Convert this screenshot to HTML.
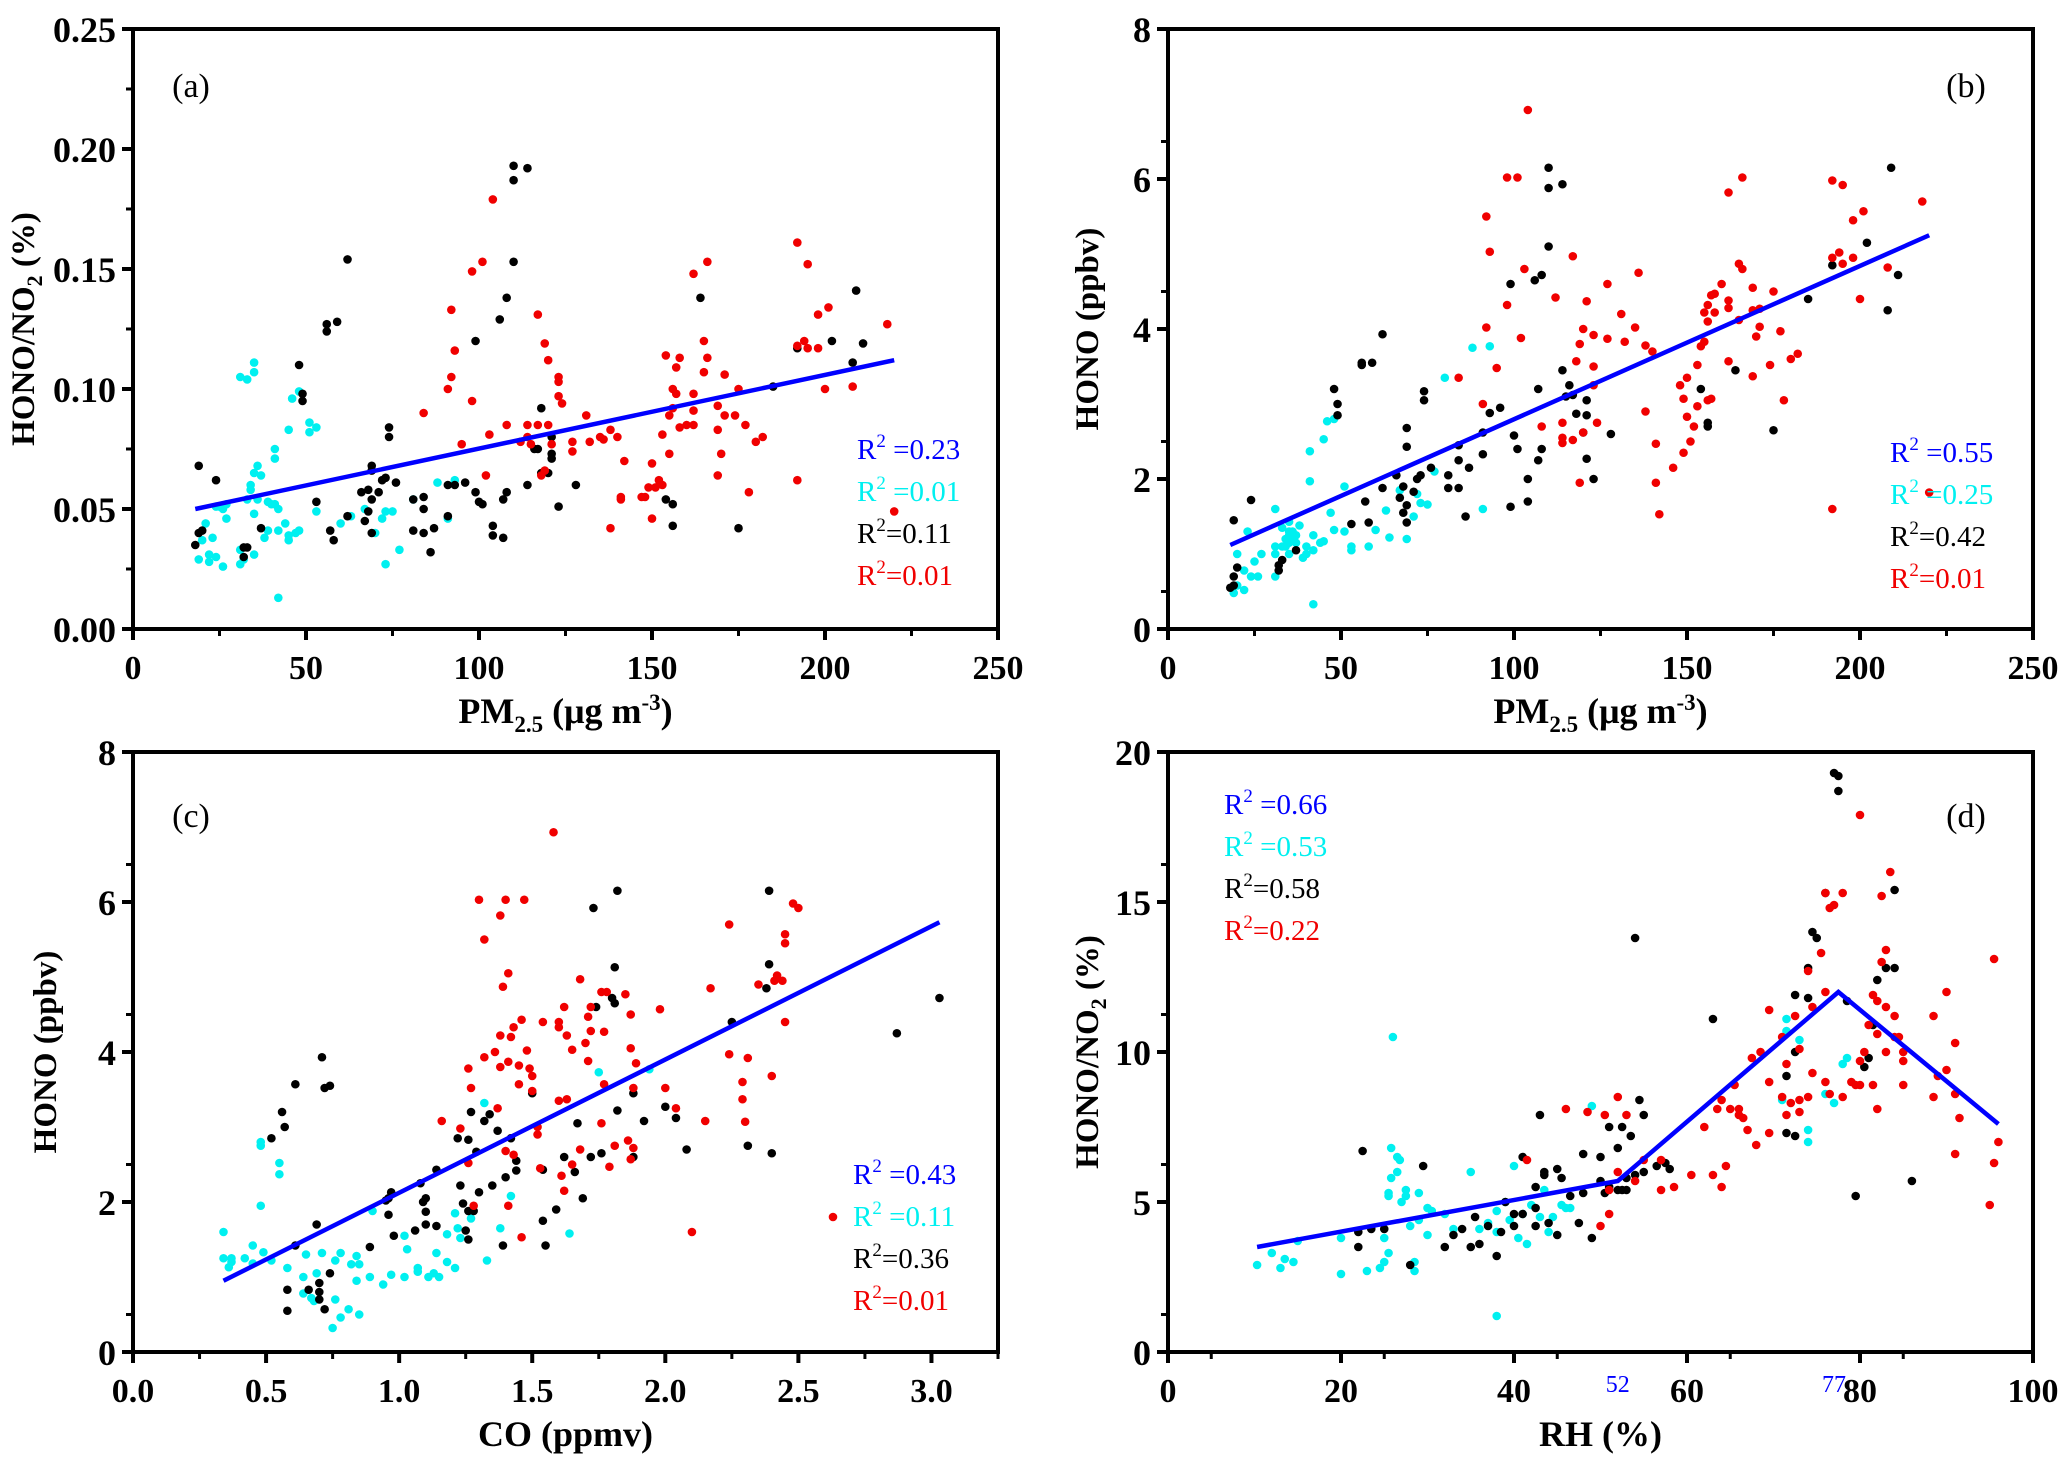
<!DOCTYPE html>
<html><head><meta charset="utf-8"><style>
html,body{margin:0;padding:0;background:#fff;}
svg{display:block;}
svg, svg text{font-family:"Liberation Serif","DejaVu Serif",serif;}
</style></head><body>
<svg id="fig" width="2067" height="1463" viewBox="0 0 2067 1463" xmlns="http://www.w3.org/2000/svg" font-family="Liberation Serif, serif"></svg>
<script>
// ---------- DATA ----------
const aCyan=[[19,.029],[20,.037],[21,.044],[22,.031],[22,.028],[23,.038],[24,.051],[24,.030],[25,.051],[26,.050],[26,.026],[27,.052],[27,.046],[31,.033],[31,.027],[31,.105],[32,.029],[33,.104],[33,.054],[34,.060],[34,.058],[35,.111],[35,.107],[35,.065],[35,.048],[35,.031],[36,.068],[36,.054],[37,.064],[38,.038],[39,.041],[39,.053],[40,.052],[41,.075],[41,.071],[41,.052],[42,.050],[42,.041],[42,.013],[44,.044],[45,.083],[45,.037],[45,.039],[46,.096],[47,.040],[48,.041],[48,.099],[51,.086],[51,.082],[53,.084],[53,.049],[60,.044],[63,.047],[67,.050],[70,.040],[72,.046],[73,.049],[73,.027],[75,.049],[77,.033],[81,.054],[88,.061],[91,.046],[93,.062]];
const aBlack=[[18,.035],[19,.068],[19,.040],[20,.041],[24,.062],[32,.034],[32,.030],[33,.034],[37,.042],[48,.110],[49,.098],[49,.095],[53,.053],[56,.127],[56,.124],[57,.041],[58,.037],[59,.128],[62,.047],[62,.154],[66,.057],[67,.045],[68,.058],[68,.049],[69,.068],[69,.066],[69,.054],[69,.040],[71,.057],[72,.062],[73,.063],[74,.084],[74,.080],[76,.061],[81,.054],[81,.041],[84,.055],[84,.050],[84,.040],[86,.032],[87,.042],[91,.060],[91,.047],[93,.060],[96,.061],[99,.120],[99,.057],[100,.053],[101,.052],[104,.043],[104,.039],[106,.129],[107,.054],[107,.038],[108,.138],[108,.057],[110,.193],[110,.187],[110,.153],[114,.192],[114,.060],[116,.075],[117,.075],[118,.092],[118,.065],[120,.065],[121,.080],[121,.073],[121,.071],[123,.051],[128,.060],[154,.054],[156,.052],[156,.043],[164,.138],[175,.042],[185,.101],[192,.117],[202,.120],[208,.111],[209,.141],[211,.119]];
const aRed=[[84,.090],[91,.100],[92,.133],[92,.105],[93,.116],[95,.077],[98,.149],[98,.095],[101,.153],[102,.064],[103,.081],[104,.179],[108,.085],[112,.078],[114,.085],[114,.080],[115,.077],[117,.131],[117,.085],[118,.064],[119,.119],[119,.066],[120,.112],[120,.085],[121,.077],[123,.105],[123,.103],[123,.097],[124,.094],[127,.078],[127,.074],[131,.089],[132,.078],[135,.080],[136,.079],[138,.083],[138,.042],[140,.080],[141,.055],[141,.054],[142,.070],[147,.055],[148,.055],[149,.059],[150,.069],[150,.046],[151,.059],[152,.062],[153,.060],[153,.081],[154,.114],[155,.073],[155,.089],[156,.100],[156,.092],[157,.109],[157,.098],[158,.113],[158,.084],[160,.085],[162,.148],[162,.098],[162,.091],[162,.085],[165,.120],[165,.107],[166,.153],[166,.113],[169,.093],[169,.083],[169,.064],[170,.073],[171,.106],[171,.089],[174,.089],[175,.100],[177,.085],[178,.057],[180,.078],[182,.080],[192,.161],[192,.118],[192,.062],[194,.120],[195,.152],[195,.117],[198,.131],[198,.117],[200,.100],[201,.134],[208,.101],[218,.127],[220,.049]];
const aFit=[[18,.050],[220,.112]];

const bCyan=[[19,.48],[20,.58],[20,1.0],[22,.78],[22,.52],[23,1.3],[24,.70],[25,.90],[26,.70],[27,1.0],[31,.70],[31,1.1],[31,1.0],[31,1.6],[33,1.35],[33,1.1],[34,1.2],[34,1.1],[35,1.43],[35,1.3],[35,1.25],[35,1.15],[35,1.0],[36,1.3],[36,1.2],[37,1.25],[37,1.15],[38,1.38],[39,.95],[40,1.1],[40,1.0],[41,2.37],[41,1.97],[42,1.25],[42,1.05],[42,.33],[44,1.15],[45,1.17],[45,2.53],[46,2.77],[47,1.55],[48,1.32],[48,2.80],[51,1.9],[51,1.3],[53,1.1],[53,1.05],[58,1.1],[60,1.32],[63,1.58],[64,1.22],[67,1.85],[69,1.2],[71,1.5],[72,1.8],[73,1.68],[75,1.66],[77,2.1],[80,3.35],[88,3.75],[91,1.6],[93,3.77]];
const bBlack=[[18,.55],[19,.58],[19,.70],[19,1.45],[20,.82],[24,1.72],[32,.78],[32,.85],[33,.92],[37,1.05],[48,3.2],[49,3.0],[49,2.85],[53,1.4],[56,3.55],[56,3.52],[57,1.7],[58,1.42],[59,3.55],[62,1.88],[62,3.93],[66,2.05],[67,1.75],[68,1.9],[68,1.55],[69,2.68],[69,2.43],[69,1.65],[69,1.42],[71,1.83],[72,2.0],[73,2.05],[74,3.17],[74,3.05],[76,2.15],[81,2.05],[81,1.88],[84,2.45],[84,2.25],[84,1.88],[86,1.5],[87,2.15],[91,2.62],[91,2.33],[93,2.88],[96,2.95],[99,4.6],[99,1.63],[100,2.58],[101,2.4],[104,2.0],[104,1.7],[106,4.65],[107,3.2],[107,2.25],[108,4.72],[108,2.4],[110,6.15],[110,5.88],[110,5.1],[114,5.93],[114,3.45],[115,3.1],[116,3.25],[117,3.12],[118,2.87],[120,2.62],[121,3.05],[121,2.85],[121,2.27],[123,2.0],[128,2.6],[154,3.2],[156,2.75],[156,2.7],[164,3.45],[175,2.65],[185,4.4],[192,4.85],[202,5.15],[208,4.25],[209,6.15],[211,4.72]];
const bRed=[[84,3.35],[91,3.0],[92,5.5],[92,4.02],[93,5.03],[95,3.48],[98,6.02],[98,4.32],[101,6.02],[102,3.88],[103,4.8],[104,6.92],[108,2.7],[112,4.42],[114,2.75],[114,2.55],[114,2.48],[117,4.97],[117,2.52],[118,3.57],[119,3.8],[119,1.95],[120,4.0],[120,2.62],[121,4.37],[123,3.92],[123,3.5],[123,3.25],[124,2.75],[127,4.6],[127,3.87],[131,4.2],[132,3.83],[135,4.02],[136,4.75],[138,3.78],[138,2.9],[140,3.7],[141,2.47],[141,1.95],[142,1.53],[146,2.15],[148,3.25],[149,3.07],[149,2.35],[150,3.35],[150,2.83],[151,2.5],[152,2.7],[153,3.52],[153,2.97],[154,3.77],[155,4.22],[155,3.83],[156,4.32],[156,4.1],[156,3.05],[157,4.45],[157,3.07],[158,4.47],[158,4.22],[160,4.6],[162,5.82],[162,4.38],[162,4.28],[162,3.57],[165,4.87],[165,4.12],[166,6.02],[166,4.8],[169,4.55],[169,4.25],[169,3.37],[170,3.9],[171,4.27],[171,4.03],[174,3.52],[175,4.5],[177,3.97],[178,3.05],[180,3.6],[182,3.67],[192,5.98],[192,4.95],[192,1.6],[194,5.02],[195,5.92],[195,4.87],[198,5.45],[198,4.95],[200,4.4],[201,5.57],[208,4.82],[218,5.7],[220,1.82]];
const bFit=[[18,1.12],[220,5.25]];

const cCyan=[[.34,1.6],[.34,1.25],[.36,1.13],[.37,1.25],[.37,1.2],[.42,1.25],[.45,1.42],[.45,1.18],[.48,2.8],[.48,2.75],[.48,1.95],[.49,1.33],[.52,1.22],[.55,2.52],[.55,2.37],[.58,1.12],[.64,1.0],[.64,.78],[.65,1.3],[.67,.72],[.68,.68],[.69,1.05],[.71,1.32],[.76,1.22],[.76,.7],[.78,1.32],[.78,.46],[.75,.32],[.81,.57],[.82,1.17],[.84,1.28],[.84,.95],[.85,1.17],[.85,.5],[.89,1.0],[.90,1.88],[.94,.9],[.97,1.03],[1.02,1.0],[1.02,1.55],[1.03,1.37],[1.07,1.12],[1.07,1.07],[1.11,1.0],[1.13,1.05],[1.14,1.32],[1.15,1.0],[1.18,1.2],[1.18,1.57],[1.21,1.85],[1.21,1.12],[1.22,1.65],[1.23,1.52],[1.27,1.78],[1.32,3.32],[1.33,1.22],[1.38,1.65],[1.42,2.08],[1.64,1.58],[1.75,3.73],[1.94,3.77]];
const cBlack=[[.58,.55],[.58,.83],[.52,2.85],[.56,3.2],[.57,3.0],[.61,3.57],[.61,1.42],[.66,.83],[.69,1.7],[.70,.92],[.70,.7],[.70,.8],[.71,3.93],[.72,3.52],[.72,.57],[.74,3.55],[.74,1.05],[.89,1.4],[.95,2.02],[.96,2.05],[.96,1.83],[.97,2.13],[.98,1.55],[1.06,1.62],[1.08,2.25],[1.09,2.0],[1.10,2.05],[1.10,1.7],[1.10,1.87],[1.14,2.43],[1.14,1.68],[1.22,2.85],[1.23,2.22],[1.24,1.98],[1.25,1.62],[1.26,2.83],[1.26,1.88],[1.26,1.5],[1.27,3.2],[1.28,1.88],[1.29,2.67],[1.30,2.13],[1.32,3.08],[1.34,3.17],[1.35,2.22],[1.37,2.95],[1.39,1.42],[1.40,2.33],[1.42,2.85],[1.44,2.55],[1.44,2.42],[1.50,3.45],[1.54,1.75],[1.54,2.43],[1.55,1.42],[1.59,1.9],[1.62,2.6],[1.66,2.4],[1.67,3.05],[1.69,2.05],[1.72,2.6],[1.73,5.92],[1.74,4.6],[1.76,2.65],[1.80,4.72],[1.81,5.13],[1.82,6.15],[1.81,4.65],[1.82,3.22],[1.88,2.6],[1.88,3.45],[1.92,3.08],[2.0,3.27],[2.04,3.12],[2.08,2.7],[2.25,4.4],[2.31,2.75],[2.38,4.85],[2.39,5.17],[2.39,6.15],[2.40,2.65],[2.87,4.25],[3.03,4.72]];
const cRed=[[1.16,3.08],[1.23,2.98],[1.26,2.52],[1.26,3.78],[1.27,3.52],[1.28,1.95],[1.30,6.03],[1.32,3.93],[1.32,5.5],[1.36,4.0],[1.37,3.25],[1.38,4.22],[1.38,3.8],[1.38,5.82],[1.39,4.87],[1.40,6.03],[1.40,2.68],[1.41,3.87],[1.41,5.05],[1.41,1.95],[1.42,4.2],[1.43,4.33],[1.43,2.63],[1.45,3.82],[1.45,3.57],[1.46,4.43],[1.46,1.53],[1.47,6.03],[1.48,4.02],[1.49,3.78],[1.50,3.48],[1.50,3.68],[1.52,3.0],[1.52,2.9],[1.53,2.45],[1.54,4.4],[1.58,6.93],[1.60,3.35],[1.60,4.4],[1.60,4.33],[1.61,2.35],[1.62,2.15],[1.62,4.6],[1.63,4.22],[1.63,3.37],[1.65,4.03],[1.65,2.5],[1.68,4.97],[1.68,2.7],[1.70,4.12],[1.71,4.47],[1.71,3.88],[1.72,4.28],[1.72,4.6],[1.76,3.05],[1.77,4.27],[1.76,4.8],[1.77,3.57],[1.78,4.8],[1.79,2.47],[1.81,2.75],[1.85,4.77],[1.86,2.82],[1.87,4.5],[1.87,4.05],[1.87,2.57],[1.88,2.72],[1.88,3.52],[1.89,3.85],[1.98,4.57],[2.0,3.52],[2.04,3.25],[2.10,1.6],[2.15,3.08],[2.17,4.85],[2.24,3.97],[2.24,5.7],[2.29,3.6],[2.29,3.37],[2.30,3.07],[2.31,3.92],[2.35,4.9],[2.40,3.68],[2.41,4.95],[2.42,5.02],[2.44,4.95],[2.45,5.45],[2.45,5.57],[2.45,4.4],[2.48,5.98],[2.50,5.92],[2.63,1.80]];
const cFit=[[.34,.95],[3.03,5.73]];

const dCyan=[[10.3,2.9],[12,3.3],[13,2.8],[13.5,3.1],[14.5,3.0],[15,3.7],[20,2.6],[20,3.8],[23,2.7],[24.5,2.8],[25,3.0],[25,3.8],[25.5,5.3],[25.5,5.2],[25.5,3.3],[25.8,6.8],[25.8,5.8],[26,10.5],[26.5,6.5],[26.5,6.0],[26.8,6.4],[27,5.0],[27.5,5.4],[27.5,5.2],[28,4.2],[28.5,2.7],[28.5,3.0],[29,5.3],[29,4.4],[30,4.8],[30,3.9],[30.5,4.7],[32,4.6],[33,4.1],[35,6.0],[36,4.1],[37,4.3],[38,4.0],[38,4.7],[38,1.2],[39,5.0],[39.5,4.4],[40,6.2],[40.5,3.8],[41,4.6],[41.5,3.6],[42,4.9],[43,4.5],[43.5,5.4],[44,4.0],[44.5,4.5],[45.5,4.9],[46,4.8],[46.5,4.8],[49,8.2],[71,8.4],[71.5,11.1],[71.5,10.7],[73,10.4],[74,7.0],[74,7.4],[76,8.6],[78,9.6],[77,8.3],[78.5,9.8]];
const dBlack=[[22,4.0],[22,3.5],[22.5,6.7],[23.5,4.1],[25,4.1],[28,2.9],[29.5,6.2],[32,3.5],[33,3.9],[34,4.1],[35,3.5],[35.5,4.5],[36,3.6],[37,4.2],[38,3.2],[38.5,4.0],[39,5.0],[40,4.6],[40,4.2],[41,4.6],[41,6.5],[42.5,5.5],[42.5,4.2],[42.5,4.8],[43,7.9],[43.5,6.0],[43.5,5.9],[44,4.3],[45,3.9],[45,6.1],[45.5,5.8],[46.5,5.2],[47.5,4.3],[48,5.3],[48,6.6],[49,3.8],[50,6.5],[50,5.7],[50.5,5.3],[51,5.5],[51,7.5],[52,6.8],[52,5.4],[52.5,5.4],[52.5,7.5],[53,5.8],[53,5.4],[53.5,7.2],[54,5.9],[54,13.8],[54.5,8.4],[55,7.9],[55,6.0],[56.5,6.2],[57.5,6.3],[58,6.1],[63,11.1],[71.5,9.2],[71.5,7.3],[72.5,11.9],[72.5,10.0],[72.5,7.2],[74,11.8],[74,12.8],[74.5,14.0],[75,13.8],[76,15.3],[77,19.3],[77.5,19.2],[77.5,18.7],[78.5,11.7],[79.5,5.2],[80.5,9.5],[81,9.8],[81.5,10.9],[82,12.4],[83,12.8],[84,12.8],[84,15.4],[86,5.7]];
const dRed=[[41.5,6.4],[46,8.1],[48.5,8.0],[50,4.2],[50.5,7.9],[51,4.6],[51,5.4],[52,8.5],[52,6.0],[53,7.9],[54,5.7],[55,6.4],[57,5.4],[57,6.4],[58.5,5.5],[60.5,5.9],[62,7.5],[63,5.9],[63.5,8.1],[64,8.4],[64,5.5],[64.5,6.2],[65,8.1],[65.5,8.9],[66,8.1],[66,7.9],[66.5,7.8],[67,7.4],[67.5,9.8],[68,6.9],[68.5,10.0],[69.5,9.0],[69.5,7.3],[69.5,11.4],[71,8.5],[71,10.5],[71.5,9.6],[71.5,7.9],[72,8.3],[72.5,11.2],[73,10.1],[73,8.0],[73,8.4],[74,8.5],[74,12.7],[74.5,11.5],[74.5,9.3],[75.5,13.3],[76,12.0],[76,15.3],[76,9.0],[76.5,8.6],[76.5,14.8],[77,14.9],[78,15.3],[78,8.5],[79,9.0],[79.5,8.9],[80,17.9],[80,8.9],[80,9.7],[80.5,10.0],[81,10.9],[81.5,8.9],[81.5,11.9],[82,8.1],[82,11.7],[82,10.6],[82.5,13.0],[82.5,15.2],[83,11.5],[83,10.0],[83,13.4],[83.5,16.0],[84,11.2],[84,10.5],[84.5,10.5],[85,10.0],[85,8.9],[85,9.7],[88.5,11.2],[88.5,8.5],[89,9.2],[90,9.4],[90,12.0],[91,6.6],[91,8.6],[91,10.3],[91.5,7.8],[95,4.9],[95.5,6.3],[95.5,13.1],[96,7.0]];
const dFit=[[10.3,3.5],[52,5.7],[77.5,12.0],[96,7.6]];

const abXTicks=[0,50,100,150,200,250];
const aYTicks=["0.00","0.05","0.10","0.15","0.20","0.25"];
const hYTicks=["0","2","4","6","8"];
const cXTicks=["0.0","0.5","1.0","1.5","2.0","2.5","3.0"];
const dXTicks=["0","20","40","60","80","100"];
const dYTicks=["0","5","10","15","20"];
const aR2=["0.23","0.01","0.11","0.01"];
const bR2=["0.55","0.25","0.42","0.01"];
const cR2=["0.43","0.11","0.36","0.01"];
const dR2=["0.66","0.53","0.58","0.22"];

// ---------- RENDER ----------
const NS="http://www.w3.org/2000/svg";
const svg=document.getElementById('fig');
const FF="Liberation Serif, serif";
function el(tag,attrs,parent,txt){const e=document.createElementNS(NS,tag);for(const k in attrs)e.setAttribute(k,attrs[k]);if(tag==='text')e.setAttribute('font-family',FF);if(txt!==undefined)e.textContent=txt;(parent||svg).appendChild(e);return e;}
const COLORS={cyan:"#00f0f0",black:"#000",red:"#f00000",blue:"#0000ff"};

function panel(o){
  const g=el('g',{});
  
  
  const L=o.L,R=o.R,T=o.T,B=o.B;
  const sx=v=>L+(v-o.x0)/(o.x1-o.x0)*(R-L);
  const sy=v=>B-(v-o.y0)/(o.y1-o.y0)*(B-T);
  const fr=el('rect',{x:L,y:T,width:R-L,height:B-T,fill:'none',stroke:'#000','stroke-width':4},g);
  
  
  o.xt.forEach((t,i)=>{
    const v=parseFloat(t);const x=sx(v);
    el('line',{x1:x,y1:B,x2:x,y2:B+11,stroke:'#000','stroke-width':4},g);
    const tx=el('text',{x:x,y:B+50,'text-anchor':'middle','font-size':34,'font-weight':'bold'},g,t);
    
    
    if(i<o.xt.length-1){const xm=sx(v+o.xstep/2);if(xm<R+1)el('line',{x1:xm,y1:B,x2:xm,y2:B+7,stroke:'#000','stroke-width':3},g);}
  });
  if(o.xExtraMinor){const xm=sx(parseFloat(o.xt[o.xt.length-1])+o.xstep/2);if(xm<R+1)el('line',{x1:xm,y1:B,x2:xm,y2:B+7,stroke:'#000','stroke-width':3},g);}
  o.yt.forEach((t,i)=>{
    const v=parseFloat(t);const y=sy(v);
    el('line',{x1:L-11,y1:y,x2:L,y2:y,stroke:'#000','stroke-width':4},g);
    const ty=el('text',{x:L-17,y:y+13,'text-anchor':'end','font-size':36,'font-weight':'bold'},g,t);
    
    
    if(i<o.yt.length-1){const ym=sy(v+o.ystep/2);el('line',{x1:L-7,y1:ym,x2:L,y2:ym,stroke:'#000','stroke-width':3},g);}
  });
  [['cyan',o.cyan],['black',o.black],['red',o.red]].forEach(([c,arr])=>{
    const sg=el('g',{fill:COLORS[c]},g);
    
    
    arr.forEach(p=>{
      const d=el('circle',{cx:sx(p[0]),cy:sy(p[1]),r:4.3},sg);
      
      
    });
  });
  const fl=el('polyline',{points:o.fit.map(p=>sx(p[0])+','+sy(p[1])).join(' '),fill:'none',stroke:COLORS.blue,'stroke-width':4.5},g);
  
  
  const cols=['blue','cyan','black','red'];
  o.r2.forEach((v,i)=>{
    const t=el('text',{x:o.r2x,y:o.r2y+i*o.r2dy,'font-size':29,fill:COLORS[cols[i]]},g);
    
    
    el('tspan',{},t,'R');
    el('tspan',{dy:-12,'font-size':19},t,'2');
    el('tspan',{dy:12},t,(i<2?' =':'=')+v);
  });
  const pl=el('text',{x:o.plx,y:o.ply,'text-anchor':'middle','font-size':34},g,'('+o.id+')');
  
  
  const yc=(T+B)/2;
  const yt=el('text',{x:o.ytx,y:yc,'text-anchor':'middle','font-size':33,'font-weight':'bold',transform:`rotate(-90 ${o.ytx} ${yc})`},g);
  
  
  if(o.ytitle==='ratio'){el('tspan',{},yt,'HONO/NO');el('tspan',{dy:8,'font-size':22},yt,'2');el('tspan',{dy:-8},yt,' (%)');}
  else el('tspan',{},yt,'HONO (ppbv)');
  const xc=(L+R)/2;
  const xt=el('text',{x:xc,y:B+94,'text-anchor':'middle','font-size':36,'font-weight':'bold'},g);
  
  
  if(o.xtitle==='pm'){el('tspan',{},xt,'PM');el('tspan',{dy:9,'font-size':23},xt,'2.5');el('tspan',{dy:-9},xt,' (μg m');el('tspan',{dy:-13,'font-size':23},xt,'-3');el('tspan',{dy:13},xt,')');}
  else xt.textContent=o.xtitle;
  if(o.marks){o.marks.forEach(m=>{const t=el('text',{x:sx(m),y:B+40,'text-anchor':'middle','font-size':24,fill:COLORS.blue},g,String(m));
    
    });}
  return g;
}
const LA=133,RA=998,LB=1168,RB=2033,T1=29,B1=629,T2=752,B2=1352;
panel({id:'a',L:LA,R:RA,T:T1,B:B1,x0:0,x1:250,y0:0,y1:0.25,xt:abXTicks.map(String),xstep:50,yt:aYTicks,ystep:0.05,cyan:aCyan,black:aBlack,red:aRed,fit:aFit,r2:aR2,r2x:857,r2y:459,r2dy:42,plx:191,ply:97,ytx:34,ytitle:'ratio',xtitle:'pm'});
panel({id:'b',L:LB,R:RB,T:T1,B:B1,x0:0,x1:250,y0:0,y1:8,xt:abXTicks.map(String),xstep:50,yt:hYTicks,ystep:1,cyan:bCyan,black:bBlack,red:bRed,fit:bFit,r2:bR2,r2x:1890,r2y:462,r2dy:42,plx:1966,ply:97,ytx:1098,ytitle:'hono',xtitle:'pm'});
panel({id:'c',L:LA,R:RA,T:T2,B:B2,x0:0,x1:3.25,y0:0,y1:8,xt:cXTicks,xstep:0.5,xExtraMinor:true,yt:hYTicks,ystep:1,cyan:cCyan,black:cBlack,red:cRed,fit:cFit,r2:cR2,r2x:853,r2y:1184,r2dy:42,plx:191,ply:827,ytx:56,ytitle:'hono',xtitle:'CO (ppmv)'});
panel({id:'d',L:LB,R:RB,T:T2,B:B2,x0:0,x1:100,y0:0,y1:20,xt:dXTicks,xstep:10,yt:dYTicks,ystep:2.5,cyan:dCyan,black:dBlack,red:dRed,fit:dFit,r2:dR2,r2x:1224,r2y:814,r2dy:42,plx:1966,ply:827,ytx:1098,ytitle:'ratio',xtitle:'RH (%)',marks:[52,77]});
</script>
</body></html>
